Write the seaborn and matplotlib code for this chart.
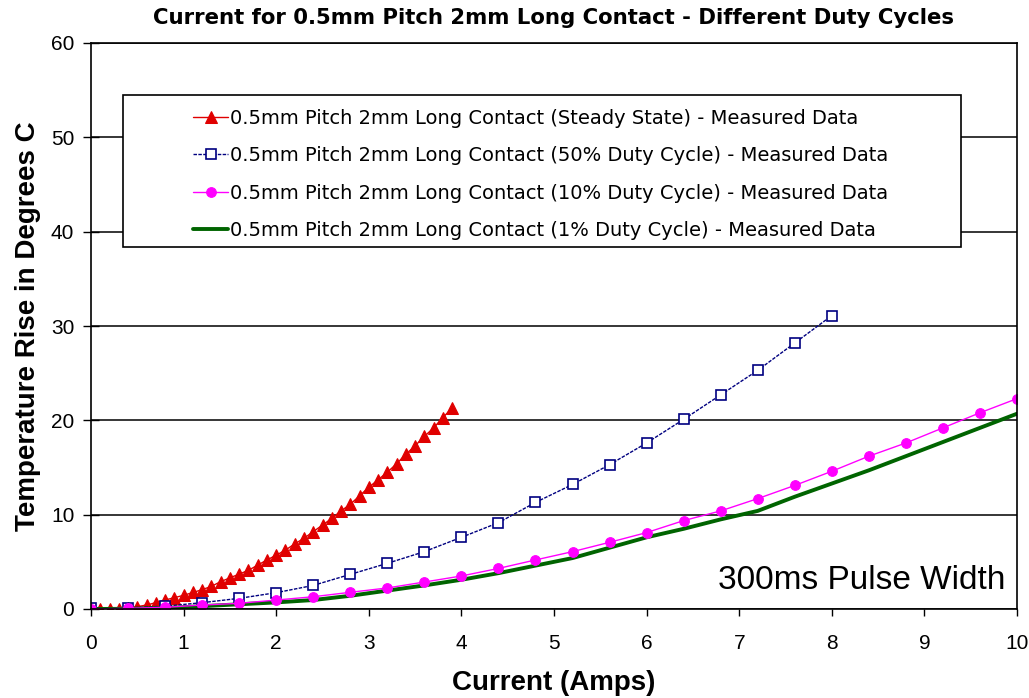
import numpy as np
import pandas as pd
import matplotlib
matplotlib.use("Agg")
import matplotlib.pyplot as plt
import seaborn as sns
from matplotlib.patches import Rectangle

# ---- data ----
red_x = [0.0, 0.1, 0.2, 0.3, 0.4, 0.5, 0.6, 0.7, 0.8, 0.9,
         1.0, 1.1, 1.2, 1.3, 1.4, 1.5, 1.6, 1.7, 1.8, 1.9,
         2.0, 2.1, 2.2, 2.3, 2.4, 2.5, 2.6, 2.7, 2.8, 2.9,
         3.0, 3.1, 3.2, 3.3, 3.4, 3.5, 3.6, 3.7, 3.8, 3.9]
red_y = [0.0, 0.0, 0.02, 0.05, 0.1, 0.25, 0.42, 0.67, 0.95, 1.2,
         1.45, 1.75, 2.05, 2.4, 2.9, 3.3, 3.7, 4.1, 4.65, 5.2,
         5.7, 6.25, 6.9, 7.5, 8.2, 8.9, 9.6, 10.4, 11.1, 12.0,
         12.9, 13.7, 14.5, 15.4, 16.4, 17.3, 18.3, 19.2, 20.3, 21.3]

blue_x = [0.0, 0.4, 0.8, 1.2, 1.6, 2.0, 2.4, 2.8, 3.2, 3.6, 4.0,
          4.4, 4.8, 5.2, 5.6, 6.0, 6.4, 6.8, 7.2, 7.6, 8.0]
blue_y = [0.07, 0.12, 0.3, 0.67, 1.13, 1.73, 2.5, 3.67, 4.84, 6.08, 7.6,
          9.15, 11.3, 13.2, 15.3, 17.6, 20.1, 22.7, 25.3, 28.2, 31.1]

mag_x = [0.0, 0.4, 0.8, 1.2, 1.6, 2.0, 2.4, 2.8, 3.2, 3.6, 4.0, 4.4, 4.8,
         5.2, 5.6, 6.0, 6.4, 6.8, 7.2, 7.6, 8.0, 8.4, 8.8, 9.2, 9.6, 10.0]
mag_y = [0.0, 0.07, 0.18, 0.42, 0.6, 0.95, 1.3, 1.77, 2.23, 2.86, 3.5, 4.3, 5.2,
         6.08, 7.07, 8.1, 9.37, 10.4, 11.7, 13.1, 14.6, 16.2, 17.6, 19.2, 20.8, 22.3]

green_x = [0.0, 0.4, 0.8, 1.2, 1.6, 2.0, 2.4, 2.8, 3.2, 3.6, 4.0, 4.4, 4.8,
           5.2, 5.6, 6.0, 6.4, 6.8, 7.2, 7.6, 8.0, 8.4, 8.8, 9.2, 9.6, 10.0]
green_y = [0.0, 0.02, 0.1, 0.3, 0.5, 0.7, 0.95, 1.4, 1.95, 2.5, 3.1, 3.8, 4.6,
           5.4, 6.5, 7.6, 8.5, 9.5, 10.4, 11.9, 13.3, 14.7, 16.2, 17.7, 19.2, 20.7]

labels = [
    "0.5mm Pitch 2mm Long Contact (Steady State) - Measured Data",
    "0.5mm Pitch 2mm Long Contact (50% Duty Cycle) - Measured Data",
    "0.5mm Pitch 2mm Long Contact (10% Duty Cycle) - Measured Data",
    "0.5mm Pitch 2mm Long Contact (1% Duty Cycle) - Measured Data",
]
title = "Current for 0.5mm Pitch 2mm Long Contact - Different Duty Cycles"
xlabel = "Current (Amps)"
ylabel = "Temperature Rise in Degrees C"
note = "300ms Pulse Width"
xticks = list(range(0, 11))
yticks = [0, 10, 20, 30, 40, 50, 60]

# ---- style ----
sns.set_style("white")
plt.rcParams['font.family'] = ['Liberation Sans', 'DejaVu Sans']
for k in ["text.color", "axes.labelcolor", "xtick.color", "ytick.color"]:
    plt.rcParams[k] = "black"

fig = plt.figure(figsize=(10.29, 6.98), dpi=100)
ax = fig.add_axes([91/1029, 1 - 609/698, 926/1029, 566/698])

red_c = "#E00000"
blue_c = "#000080"
mag_c = "#FF00FF"
green_c = "#006400"

sns.lineplot(x=red_x, y=red_y, ax=ax, color=red_c, marker="^", markersize=8.5,
             markeredgecolor=red_c, linewidth=1, label=labels[0], sort=False)
sns.lineplot(x=blue_x, y=blue_y, ax=ax, color=blue_c, marker="s", markersize=7,
             markerfacecolor="white", markeredgecolor=blue_c, markeredgewidth=1.2,
             linewidth=1, linestyle=(0, (2.5, 1)), label=labels[1], sort=False)
sns.lineplot(x=green_x, y=green_y, ax=ax, color=green_c, linewidth=2.8,
             label=labels[3], sort=False)
sns.lineplot(x=mag_x, y=mag_y, ax=ax, color=mag_c, marker="o", markersize=7,
             markeredgecolor=mag_c, linewidth=1, label=labels[2], sort=False)

ax.set_xlim(0, 10)
ax.set_ylim(0, 60)
ax.set_xticks(xticks)
ax.set_yticks(yticks)
ax.tick_params(axis="x", direction="out", length=5, width=1, color="black",
               labelsize=15, bottom=True, pad=13)
ax.tick_params(axis="y", direction="inout", length=12, width=1, color="black",
               labelsize=15, left=True, pad=6)
ax.yaxis.grid(True, color="black", linewidth=1.1)
ax.xaxis.grid(False)
ax.set_axisbelow(True)
for s in ax.spines.values():
    s.set_visible(True)
    s.set_color("black")
    s.set_linewidth(1.2)

ax.set_xlabel(xlabel, fontsize=20, fontweight="bold", labelpad=12)
ax.set_ylabel(ylabel, fontsize=20, fontweight="bold", labelpad=7)
fig.text(0.538, 0.974, title, ha="center", va="center", fontsize=15.3,
         fontweight="bold", family="DejaVu Sans")

ax.text(0.987, 0.05, note, transform=ax.transAxes, ha="right", va="center",
        fontsize=24)

# legend
handles, labs = ax.get_legend_handles_labels()
order = [labs.index(l) for l in labels]
leg = ax.legend([handles[i] for i in order], [labs[i] for i in order],
                loc="center", bbox_to_anchor=(0.486, 0.768), frameon=False,
                prop={"family": "DejaVu Sans", "size": 14},
                labelspacing=0.95, handlelength=1.8,
                handletextpad=0.1, borderaxespad=0)
ax.add_patch(Rectangle((32/926, (609-247)/566), (961-123)/926, (247-95)/566,
                       transform=ax.transAxes, facecolor="white",
                       edgecolor="black", linewidth=1.2, zorder=4))
leg.set_zorder(5)

fig.savefig("out.png", dpi=100)
